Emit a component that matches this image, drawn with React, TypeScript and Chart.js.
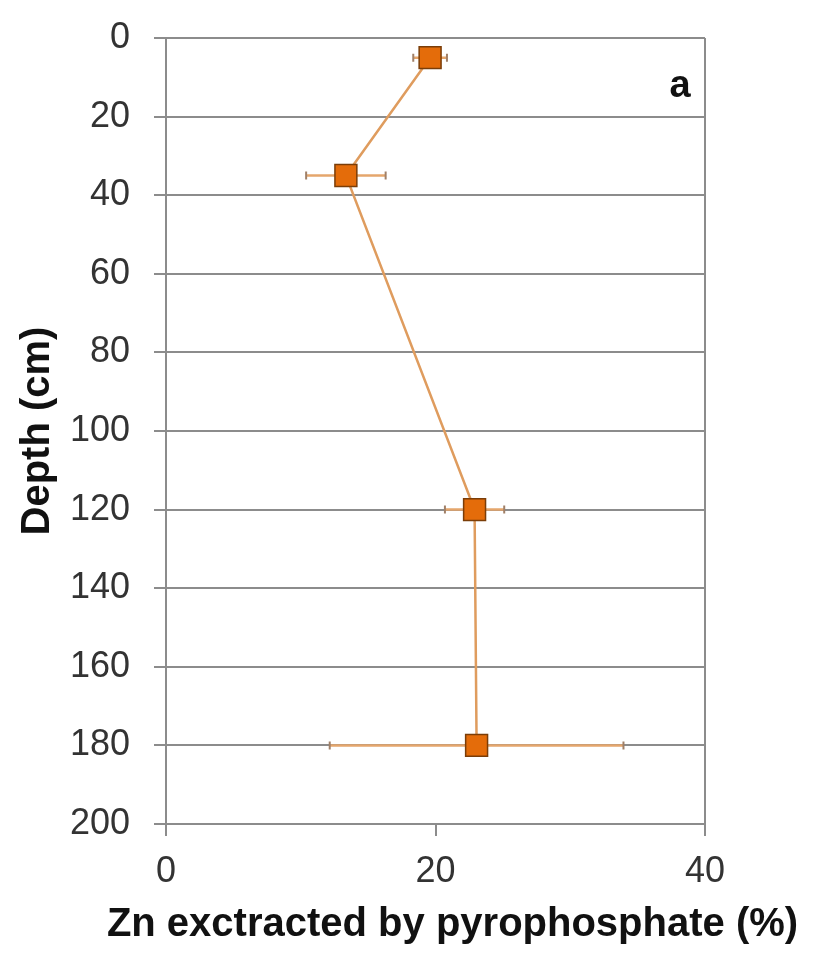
import React, { useEffect, useRef } from "react";
import { Chart, registerables } from "chart.js";

Chart.register(...registerables);

// Data
const depthCm = [5, 35, 120, 180];
const znPercent = [19.6, 13.35, 22.9, 23.05];
const znError = [1.25, 2.95, 2.2, 10.9];
const panelLabel = "a";
const xTitle = "Zn exctracted by pyrophosphate (%)";
const yTitle = "Depth (cm)";

const GRID = "#8c8c8c";
const LINE = "#df9c5e";
const FILL = "#e46c0a";
const EDGE = "#7a3d08";
const ERR = "#e5a66c";
const CAP = "#a08068";
const FONT = "Arial, 'Liberation Sans', sans-serif";

const errorBarPlugin = {
  id: "errorBars",
  beforeDatasetsDraw(chart: any) {
    const { ctx, scales } = chart;
    const xs = scales.x;
    const ys = scales.y;
    ctx.save();
    for (let i = 0; i < depthCm.length; i++) {
      const y = ys.getPixelForValue(depthCm[i]);
      const x0 = xs.getPixelForValue(znPercent[i] - znError[i]);
      const x1 = xs.getPixelForValue(znPercent[i] + znError[i]);
      ctx.strokeStyle = ERR;
      ctx.lineWidth = 2.5;
      ctx.beginPath();
      ctx.moveTo(x0, y);
      ctx.lineTo(x1, y);
      ctx.stroke();
      ctx.strokeStyle = CAP;
      ctx.lineWidth = 2;
      ctx.beginPath();
      ctx.moveTo(x0, y - 4);
      ctx.lineTo(x0, y + 4);
      ctx.moveTo(x1, y - 4);
      ctx.lineTo(x1, y + 4);
      ctx.stroke();
    }
    ctx.restore();
  },
  afterDraw(chart: any) {
    const { ctx, chartArea } = chart;
    ctx.save();
    ctx.fillStyle = "#111";
    ctx.font = "bold 38px " + FONT;
    ctx.textAlign = "center";
    ctx.textBaseline = "alphabetic";
    ctx.fillText(panelLabel, chartArea.right - 25, chartArea.top + 59);
    // x-axis title (drawn here so it is not squeezed to the axis width)
    ctx.font = "bold 40px " + FONT;
    ctx.textBaseline = "middle";
    ctx.fillText(xTitle, (chartArea.left + chartArea.right) / 2 + 17, chartArea.bottom + 101);
    ctx.restore();
  },
};

export default function App() {
  const ref = useRef<HTMLCanvasElement | null>(null);
  useEffect(() => {
    if (!ref.current) return;
    const chart = new Chart(ref.current, {
      type: "scatter",
      data: {
        datasets: [
          {
            data: depthCm.map((d, i) => ({ x: znPercent[i], y: d })),
            showLine: true,
            borderColor: LINE,
            borderWidth: 2.5,
            pointStyle: "rect",
            pointRadius: 15.5,
            pointHoverRadius: 15.5,
            pointBackgroundColor: FILL,
            pointBorderColor: EDGE,
            pointBorderWidth: 1.5,
          },
        ],
      },
      plugins: [errorBarPlugin],
      options: {
        responsive: false,
        animation: false,
        events: [],
        layout: { padding: { left: 0, right: 108, top: 38, bottom: 0 } },
        plugins: {
          legend: { display: false },
          tooltip: { enabled: false },
        },
        scales: {
          x: {
            type: "linear",
            min: 0,
            max: 40,
            afterFit: (s: any) => {
              s.height = 131;
              s.paddingLeft = 0;
              s.paddingRight = 0;
            },
            ticks: {
              stepSize: 20,
              padding: 14,
              color: "#333",
              font: { family: FONT, size: 36 },
            },
            grid: {
              color: (c: any) => (c.tick && c.tick.value === 40 ? GRID : "rgba(0,0,0,0)"),
              tickColor: GRID,
              lineWidth: 2,
              tickLength: 12,
            },
            border: { display: true, color: GRID, width: 2 },
            title: { display: false, text: xTitle },
          },
          y: {
            type: "linear",
            min: 0,
            max: 200,
            reverse: true,
            afterFit: (s: any) => {
              s.width = 166;
              s.paddingTop = 0;
              s.paddingBottom = 0;
            },
            ticks: {
              stepSize: 20,
              padding: 24,
              color: "#333",
              font: { family: FONT, size: 36 },
            },
            grid: {
              color: GRID,
              tickColor: GRID,
              lineWidth: 2,
              tickLength: 12,
            },
            border: { display: true, color: GRID, width: 2 },
            title: {
              display: true,
              text: yTitle,
              color: "#111",
              padding: { top: 14, bottom: 0 },
              font: { family: FONT, size: 40, weight: "bold" },
            },
          },
        },
      },
    });
    return () => chart.destroy();
  }, []);
  return (
    <div style={{ position: "absolute", left: 0, top: 0, width: 813, height: 955, background: "#fff" }}>
      <canvas ref={ref} width={813} height={955} />
    </div>
  );
}
